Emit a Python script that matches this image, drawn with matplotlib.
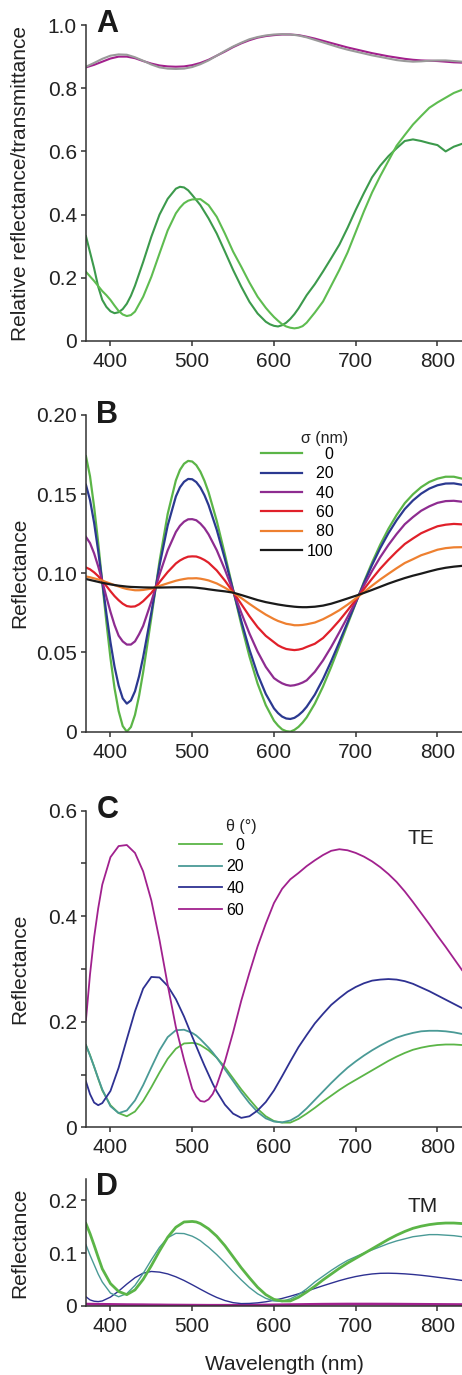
import numpy as np
import matplotlib
matplotlib.use("Agg")
import matplotlib.pyplot as plt

plt.rcParams['font.family'] = ['Liberation Sans', 'DejaVu Sans']

wl = np.arange(370, 831, 10)
wl_a_green = [370, 380, 385, 390, 395, 400, 405, 410, 415, 420, 425, 430,
              440, 450, 460, 470, 480, 485, 490, 495, 500,
              510, 520, 530, 540, 550, 560, 570, 580, 590,
              595, 600, 605, 610, 615, 620, 625, 630, 635,
              640, 650, 660, 670, 680, 690, 700, 710, 720, 730, 740,
              750, 760, 770, 780, 790, 800, 810, 820, 830]
wl_b = [370, 375, 380, 385, 390, 395, 400, 405, 410, 415, 420, 425, 430, 435, 440,
        450, 460, 470, 480,
        485, 490, 495, 500, 505, 510, 515,
        520, 530, 540, 550, 560, 570, 580, 590, 600,
        605, 610, 615, 620, 625, 630, 635, 640,
        650, 660, 670, 680, 690, 700, 710, 720, 730, 740,
        750, 760, 770, 780, 790, 800, 810, 820, 830]
wl_cd = [370, 375, 380, 385, 390,
         400, 410, 420, 430, 440, 450, 460, 470, 480, 490, 500,
         505, 510, 515, 520, 525, 530,
         540, 550, 560, 570, 580, 590, 600, 610, 620, 630, 640, 650, 660, 670,
         680, 690, 700, 710, 720, 730, 740, 750, 760, 770, 780, 790, 800, 810,
         820, 830]

# ---- Panel A: gemessene relative Reflexion / Transmission ----
a_magenta = [0.866, 0.874, 0.884, 0.894, 0.900, 0.900, 0.895, 0.886, 0.878, 0.872,
             0.869, 0.868, 0.869, 0.873, 0.880, 0.890, 0.903, 0.916, 0.930, 0.942,
             0.952, 0.960, 0.965, 0.968, 0.970, 0.970, 0.968, 0.963, 0.957, 0.950,
             0.943, 0.936, 0.929, 0.923, 0.917, 0.911, 0.906, 0.901, 0.897, 0.893,
             0.890, 0.888, 0.887, 0.886, 0.884, 0.882, 0.881]
a_gray = [0.868, 0.880, 0.893, 0.903, 0.907, 0.906, 0.898, 0.887, 0.875, 0.866,
          0.862, 0.861, 0.862, 0.867, 0.876, 0.888, 0.903, 0.918, 0.932, 0.944,
          0.955, 0.962, 0.967, 0.970, 0.971, 0.970, 0.967, 0.961, 0.953, 0.945,
          0.937, 0.929, 0.922, 0.916, 0.910, 0.904, 0.899, 0.894, 0.889, 0.886,
          0.884, 0.885, 0.887, 0.888, 0.888, 0.886, 0.884]
a_green_dark = [0.332, 0.230, 0.172, 0.130, 0.108, 0.094, 0.088, 0.091, 0.101, 0.118, 0.143, 0.175,
                0.250, 0.330, 0.400, 0.450, 0.482, 0.488, 0.486, 0.477, 0.462,
                0.430, 0.388, 0.340, 0.283, 0.225, 0.172, 0.124, 0.087, 0.061,
                0.053, 0.048, 0.046, 0.050, 0.058, 0.070, 0.085, 0.103, 0.124,
                0.145, 0.180, 0.220, 0.262, 0.305, 0.358, 0.415, 0.468, 0.518, 0.555, 0.585,
                0.610, 0.633, 0.638, 0.633, 0.626, 0.620, 0.600, 0.615, 0.624]
a_green_light = [0.219, 0.190, 0.174, 0.158, 0.145, 0.130, 0.112, 0.095, 0.084, 0.079, 0.082, 0.093,
                 0.140, 0.203, 0.277, 0.350, 0.404, 0.422, 0.436, 0.444, 0.448,
                 0.449, 0.430, 0.393, 0.340, 0.283, 0.235, 0.185, 0.140, 0.105,
                 0.090, 0.076, 0.064, 0.053, 0.046, 0.042, 0.040, 0.042, 0.047,
                 0.058, 0.090, 0.125, 0.175, 0.225, 0.280, 0.345, 0.410, 0.470, 0.522, 0.570,
                 0.618, 0.652, 0.685, 0.712, 0.738, 0.755, 0.770, 0.785, 0.795]

# ---- Panel B: Rauigkeit sigma (nm) ----
b_labels = ['    0', '  20', '  40', '  60', '  80', '100']
b_colors = ['#5bb547', '#2b3990', '#8e2c90', '#e0202a', '#ee8030', '#1a1a1a']
b_s0 = [0.174, 0.1613, 0.142, 0.1194, 0.094, 0.0693, 0.0465, 0.0274, 0.013, 0.0035, 0.0, 0.0029, 0.0106, 0.0226, 0.0376,
        0.072, 0.1076, 0.1375, 0.1587,
        0.1653, 0.1692, 0.171, 0.1706, 0.1683, 0.1642, 0.1584,
        0.1512, 0.1331, 0.1119, 0.0897, 0.0677, 0.0475, 0.0303, 0.0167, 0.0069,
        0.0038, 0.0014, 0.0003, 0.0, 0.0011, 0.003, 0.0057, 0.009,
        0.0177, 0.0285, 0.0409, 0.0542, 0.0677, 0.0811, 0.0945, 0.1068, 0.1181, 0.1281,
        0.1368, 0.1443, 0.1499, 0.1544, 0.1577, 0.1598, 0.161, 0.161, 0.1598]
b_s20 = [0.1559, 0.1463, 0.1319, 0.1141, 0.0945, 0.0747, 0.0565, 0.041, 0.0291, 0.021, 0.0177, 0.0197, 0.0255, 0.035, 0.0471,
         0.0752, 0.1049, 0.1302, 0.1485,
         0.1543, 0.1578, 0.1596, 0.1594, 0.1576, 0.1542, 0.1493,
         0.1431, 0.1275, 0.109, 0.0894, 0.0699, 0.0518, 0.0362, 0.0238, 0.0147,
         0.0117, 0.0095, 0.0083, 0.008, 0.0087, 0.0104, 0.0127, 0.0157,
         0.0234, 0.0332, 0.0445, 0.0566, 0.069, 0.0814, 0.0938, 0.1053, 0.1159, 0.1253,
         0.1335, 0.1406, 0.146, 0.1503, 0.1535, 0.1556, 0.1567, 0.1568, 0.1559]
b_s40 = [0.123, 0.1191, 0.1126, 0.1044, 0.095, 0.0851, 0.0757, 0.0673, 0.0606, 0.057, 0.055, 0.055, 0.057, 0.0615, 0.0668,
         0.0821, 0.0992, 0.1145, 0.1261,
         0.13, 0.1326, 0.1341, 0.1342, 0.1335, 0.1314, 0.1285,
         0.1246, 0.1146, 0.1023, 0.0888, 0.0751, 0.062, 0.0505, 0.0409, 0.0338,
         0.032, 0.0305, 0.0295, 0.029, 0.0293, 0.030, 0.031, 0.0324,
         0.0378, 0.045, 0.0535, 0.0628, 0.0724, 0.0822, 0.0922, 0.1015, 0.1102, 0.1179,
         0.1248, 0.131, 0.1355, 0.1395, 0.1423, 0.1445, 0.1456, 0.1458, 0.1452]
b_s60 = [0.1037, 0.1025, 0.1006, 0.0982, 0.0953, 0.092, 0.0887, 0.0856, 0.083, 0.0808, 0.0793, 0.0789, 0.0791, 0.0804, 0.0824,
         0.0876, 0.0944, 0.1008, 0.1062,
         0.1081, 0.1095, 0.1105, 0.1107, 0.1106, 0.1097, 0.1084,
         0.1067, 0.1018, 0.0954, 0.0882, 0.0806, 0.0729, 0.066, 0.0605, 0.0565,
         0.0545, 0.0532, 0.0522, 0.0518, 0.0515, 0.0518, 0.0524, 0.0535,
         0.0555, 0.0591, 0.0644, 0.0702, 0.0766, 0.0832, 0.09, 0.0966, 0.1029, 0.1085,
         0.1137, 0.1185, 0.122, 0.1253, 0.1276, 0.1297, 0.1307, 0.1312, 0.1309]
b_s80 = [0.098, 0.0975, 0.0968, 0.0961, 0.0954, 0.0944, 0.0935, 0.0925, 0.0917, 0.0908, 0.0901, 0.0897, 0.0893, 0.0893, 0.0895,
         0.0903, 0.092, 0.0937, 0.0953,
         0.0959, 0.0964, 0.0968, 0.0968, 0.0969, 0.0966, 0.0961,
         0.0955, 0.0936, 0.0909, 0.0878, 0.0844, 0.0807, 0.0772, 0.0739, 0.0711,
         0.0699, 0.069, 0.0681, 0.0677, 0.0672, 0.0672, 0.0674, 0.0678,
         0.0689, 0.071, 0.0737, 0.0767, 0.0802, 0.0841, 0.0881, 0.0922, 0.0961, 0.0997,
         0.1032, 0.1065, 0.1089, 0.1114, 0.1131, 0.1149, 0.1159, 0.1164, 0.1165]
b_s100 = [0.0964, 0.0958, 0.0952, 0.0946, 0.094, 0.0935, 0.093, 0.0926, 0.0922, 0.0919, 0.0916, 0.0914, 0.0913, 0.0912, 0.0911,
          0.091, 0.091, 0.0911, 0.0912,
          0.0912, 0.0912, 0.0912, 0.0911, 0.0909, 0.0906, 0.0903,
          0.0899, 0.0892, 0.0886, 0.0878, 0.0863, 0.0847, 0.0831, 0.0818, 0.0808,
          0.0803, 0.0799, 0.0795, 0.0792, 0.0789, 0.0787, 0.0786, 0.0786,
          0.0789, 0.0796, 0.0808, 0.0824, 0.0841, 0.0858, 0.0876, 0.0895, 0.0915, 0.0935,
          0.0953, 0.097, 0.0985, 0.0998, 0.1012, 0.1025, 0.1035, 0.1042, 0.1047]

# ---- Panel C/D: Einfallswinkel theta, TE und TM ----
theta_labels = ['  0', '20', '40', '60']
theta_colors = ['#5bb547', '#4a9a96', '#2e3192', '#a1218e']
# bei 0 Grad sind TE und TM gleich
r_0 = [0.156, 0.137, 0.115, 0.092, 0.070,
       0.042, 0.027, 0.021, 0.030, 0.050, 0.076, 0.104, 0.130, 0.149, 0.159, 0.160,
       0.159, 0.156, 0.151, 0.146, 0.139, 0.132,
       0.114, 0.093, 0.072, 0.053, 0.035, 0.021, 0.012, 0.009, 0.009, 0.016,
       0.026, 0.037, 0.049, 0.060, 0.071, 0.081, 0.090, 0.099, 0.108, 0.117,
       0.126, 0.134, 0.141, 0.147, 0.151, 0.154, 0.156, 0.157, 0.157, 0.156]
te_20 = [0.156, 0.136, 0.115, 0.093, 0.072,
         0.040, 0.027, 0.032, 0.051, 0.080, 0.1135, 0.146, 0.171, 0.184, 0.185, 0.179,
         0.174, 0.167, 0.159, 0.151, 0.142, 0.132,
         0.110, 0.088, 0.066, 0.046, 0.029, 0.017, 0.011, 0.0095, 0.013, 0.022,
         0.036, 0.052, 0.068, 0.084, 0.099, 0.113, 0.125, 0.136, 0.146, 0.155,
         0.163, 0.170, 0.175, 0.179, 0.182, 0.183, 0.183, 0.182, 0.180, 0.177]
te_40 = [0.087, 0.063, 0.047, 0.042, 0.046,
         0.069, 0.113, 0.167, 0.220, 0.263, 0.285, 0.284, 0.268, 0.243, 0.210, 0.172,
         0.1535, 0.135, 0.117, 0.100, 0.083, 0.068,
         0.043, 0.026, 0.018, 0.021, 0.032, 0.048, 0.070, 0.097, 0.125, 0.152,
         0.175, 0.197, 0.215, 0.232, 0.245, 0.257, 0.266, 0.273, 0.278, 0.280,
         0.281, 0.280, 0.277, 0.272, 0.265, 0.258, 0.250, 0.242, 0.234, 0.226]
te_60 = [0.203, 0.290, 0.360, 0.415, 0.460,
         0.512, 0.533, 0.535, 0.520, 0.485, 0.430, 0.355, 0.270, 0.190, 0.128, 0.073,
         0.058, 0.050, 0.0486, 0.053, 0.063, 0.080,
         0.125, 0.180, 0.240, 0.293, 0.343, 0.386, 0.425, 0.452, 0.470, 0.482,
         0.495, 0.506, 0.516, 0.524, 0.527, 0.525, 0.520, 0.513, 0.504, 0.493,
         0.480, 0.465, 0.447, 0.427, 0.406, 0.385, 0.363, 0.342, 0.320, 0.298]
tm_20 = [0.116, 0.096, 0.078, 0.060, 0.045,
         0.024, 0.017, 0.023, 0.0386, 0.0614, 0.087, 0.111, 0.129, 0.1375, 0.137, 0.132,
         0.128, 0.1234, 0.117, 0.111, 0.104, 0.097,
         0.0813, 0.0647, 0.049, 0.0345, 0.0226, 0.014, 0.009, 0.008, 0.013, 0.021,
         0.032, 0.045, 0.056, 0.067, 0.077, 0.086, 0.093, 0.100, 0.106, 0.112,
         0.118, 0.123, 0.127, 0.131, 0.133, 0.135, 0.135, 0.134, 0.133, 0.131]
tm_40 = [0.017, 0.011, 0.0085, 0.0078, 0.009,
         0.0163, 0.0277, 0.041, 0.0532, 0.0619, 0.065, 0.0638, 0.0604, 0.0549, 0.0479, 0.0398,
         0.0356, 0.0313, 0.0272, 0.0231, 0.0193, 0.0157,
         0.0098, 0.0058, 0.004, 0.0043, 0.0054, 0.0074, 0.0103, 0.0138, 0.018, 0.0226,
         0.0276, 0.0328, 0.0379, 0.0428, 0.0476, 0.0518, 0.0554, 0.0582, 0.0603, 0.0615,
         0.0617, 0.0613, 0.0605, 0.0593, 0.0578, 0.056, 0.054, 0.0521, 0.0501, 0.048]
tm_60 = [0.003, 0.0029, 0.0028, 0.0027, 0.0026,
         0.0024, 0.0022, 0.002, 0.0019, 0.0018, 0.0016, 0.0015, 0.0013, 0.0012, 0.0011, 0.001,
         0.00095, 0.0009, 0.00085, 0.0008, 0.0008, 0.0008,
         0.0008, 0.0008, 0.0009, 0.001, 0.0012, 0.0014, 0.0016, 0.0018, 0.002, 0.0022,
         0.0024, 0.0026, 0.0028, 0.0029, 0.003, 0.0031, 0.0031, 0.0031, 0.0031, 0.003,
         0.003, 0.0029, 0.0028, 0.0027, 0.0026, 0.0025, 0.0024, 0.0023, 0.0022, 0.0021]

x_ticks = [400, 500, 600, 700, 800]
axis_col = '#333333'
text_col = '#222222'


def style_axes(ax, ylim, yticks, yticklabels):
    # nur linke und untere Achse, Ticks nach außen
    ax.spines['top'].set_visible(False)
    ax.spines['right'].set_visible(False)
    for s in ['left', 'bottom']:
        ax.spines[s].set_linewidth(1.1)
        ax.spines[s].set_color(axis_col)
    ax.set_xlim(370, 830)
    ax.set_ylim(*ylim)
    ax.set_xticks(x_ticks)
    ax.set_yticks(yticks)
    ax.set_yticklabels(yticklabels)
    ax.tick_params(which='both', direction='out', length=3.6, width=1.1,
                   color=axis_col, labelsize=15, labelcolor=text_col)
    ax.tick_params(axis='x', pad=4.4)
    ax.tick_params(axis='y', pad=2.9)


def panel_letter(ax, letter, y):
    ax.text(0.028, y, letter, transform=ax.transAxes, fontsize=22,
            fontweight='bold', color='#1a1a1a', va='baseline', ha='left')


fig = plt.figure(figsize=(4.62, 13.75), dpi=100)
ax_a = fig.add_axes([0.186, 0.752, 0.814, 0.2298])
ax_b = fig.add_axes([0.186, 0.4679, 0.814, 0.2303])
ax_c = fig.add_axes([0.186, 0.1801, 0.814, 0.2303])
ax_d = fig.add_axes([0.186, 0.0504, 0.814, 0.0919])

# Panel A
ax_a.plot(wl, a_magenta, color='#a2208c', lw=1.5)
ax_a.plot(wl, a_gray, color='#9a9a9a', lw=1.5)
ax_a.plot(wl_a_green, a_green_dark, color='#3c9a4c', lw=1.5)
ax_a.plot(wl_a_green, a_green_light, color='#5ebc50', lw=1.5)
style_axes(ax_a, (0, 1.0), [0, 0.2, 0.4, 0.6, 0.8, 1.0],
           ['0', '0.2', '0.4', '0.6', '0.8', '1.0'])
ax_a.set_ylabel('Relative reflectance/transmittance', fontsize=15, color=text_col)
ax_a.yaxis.set_label_coords(-0.15, 0.5)
panel_letter(ax_a, 'A', 0.978)

# Panel B
b_curves = [b_s0, b_s20, b_s40, b_s60, b_s80, b_s100]
b_lines = []
for vals, col in zip(b_curves, b_colors):
    line, = ax_b.plot(wl_b, vals, color=col, lw=1.6)
    b_lines.append(line)
style_axes(ax_b, (0, 0.2), [0, 0.05, 0.10, 0.15, 0.20],
           ['0', '0.05', '0.10', '0.15', '0.20'])
ax_b.set_ylabel('Reflectance', fontsize=15, color=text_col)
ax_b.yaxis.set_label_coords(-0.15, 0.5)
panel_letter(ax_b, 'B', 0.976)
ax_b.legend(b_lines, b_labels, loc='upper left', bbox_to_anchor=(0.465, 0.899),
            frameon=False, fontsize=11.5, handlelength=2.6, handletextpad=0.3,
            labelspacing=0.27, borderpad=0, borderaxespad=0)
ax_b.text(0.697, 0.9125, 'σ (nm)', transform=ax_b.transAxes, fontsize=11.5,
          ha='right', va='baseline', color=text_col)

# Panel C (TE)
c_lines = []
for vals, col in zip([r_0, te_20, te_40, te_60], theta_colors):
    line, = ax_c.plot(wl_cd, vals, color=col, lw=1.3)
    c_lines.append(line)
style_axes(ax_c, (0, 0.6), [0, 0.2, 0.4, 0.6], ['0', '0.2', '0.4', '0.6'])
ax_c.set_yticks([0.1, 0.3, 0.5], minor=True)
ax_c.set_ylabel('Reflectance', fontsize=15, color=text_col)
ax_c.yaxis.set_label_coords(-0.15, 0.5)
panel_letter(ax_c, 'C', 0.976)
ax_c.legend(c_lines, theta_labels, loc='upper left', bbox_to_anchor=(0.247, 0.915),
            frameon=False, fontsize=11.5, handlelength=2.7, handletextpad=0.3,
            labelspacing=0.42, borderpad=0, borderaxespad=0)
ax_c.text(0.454, 0.936, 'θ (°)', transform=ax_c.transAxes, fontsize=11.5,
          ha='right', va='baseline', color=text_col)
ax_c.text(0.854, 0.895, 'TE', transform=ax_c.transAxes, fontsize=15,
          ha='left', va='baseline', color=text_col)

# Panel D (TM)
ax_d.plot(wl_cd, tm_60, color=theta_colors[3], lw=2.0)
ax_d.plot(wl_cd, tm_40, color=theta_colors[2], lw=1.0)
ax_d.plot(wl_cd, tm_20, color=theta_colors[1], lw=1.0)
ax_d.plot(wl_cd, r_0, color=theta_colors[0], lw=2.0)
style_axes(ax_d, (0, 0.24), [0, 0.1, 0.2], ['0', '0.1', '0.2'])
ax_d.set_ylabel('Reflectance', fontsize=15, color=text_col)
ax_d.yaxis.set_label_coords(-0.15, 0.5)
ax_d.set_xlabel('Wavelength (nm)', fontsize=15, color=text_col)
ax_d.xaxis.set_label_coords(0.527, -0.392)
panel_letter(ax_d, 'D', 0.876)
ax_d.text(0.854, 0.744, 'TM', transform=ax_d.transAxes, fontsize=15,
          ha='left', va='baseline', color=text_col)

fig.savefig('out.png', dpi=100)
